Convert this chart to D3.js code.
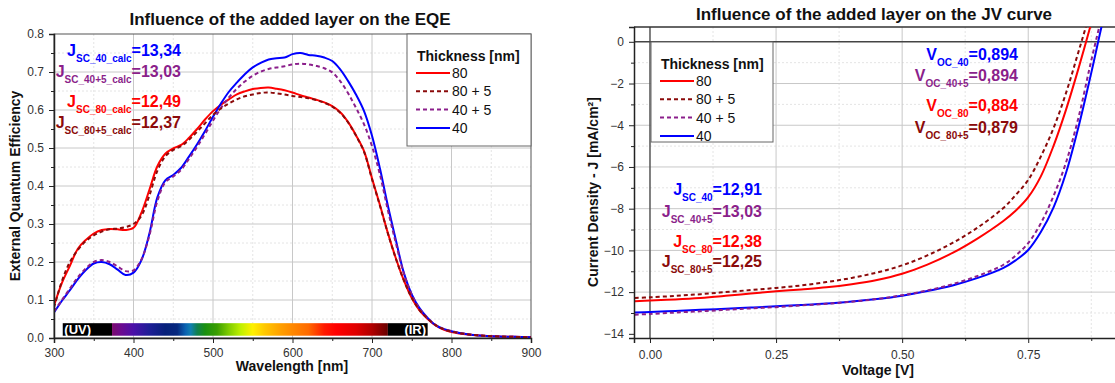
<!DOCTYPE html>
<meta charset="utf-8">
<style>
body { margin: 0; background: #fff; }
svg { font-family: "Liberation Sans", Arial, sans-serif; display: block; }
.tick text { fill: #333; font-size: 12px; }
.axis path, .axis line { stroke: #222; }
.minor line { stroke: #222; }
.title { font-size: 17px; font-weight: bold; text-anchor: middle; fill: #111; }
.alabel { font-size: 14px; font-weight: bold; text-anchor: middle; fill: #111; }
.leg { font-size: 14px; fill: #111; }
.note { font-size: 16px; font-weight: bold; }
.note .sub { font-size: 10px; }
</style>
<body>
<script src="https://cdn.jsdelivr.net/npm/d3@7"></script>
<script>

// ---------- data ----------
var series = ["80", "80 + 5", "40 + 5", "40"];
var colors = ["#ff0000", "#8b0a0a", "#8b1f8b", "#0000ff"];
var dashes = [null, "4,3", "4,3", null];

// EQE vs wavelength
var wavelength = [300,310,320,330,340,350,360,370,380,390,400,410,420,430,440,450,460,470,480,490,
  500,510,520,530,540,550,560,570,580,590,600,610,620,630,640,650,660,670,680,690,
  700,710,720,730,740,750,760,770,780,790,800,820,840,860,880,900];
var eqe80 = [0.085,0.145,0.19,0.235,0.258,0.275,0.284,0.287,0.286,0.284,0.29,0.33,0.39,0.452,0.485,0.499,0.508,0.527,0.55,0.575,
  0.597,0.614,0.628,0.641,0.649,0.655,0.658,0.659,0.656,0.652,0.646,0.639,0.633,0.627,0.62,0.61,0.594,0.568,0.533,0.492,
  0.42,0.35,0.276,0.21,0.152,0.105,0.072,0.05,0.033,0.022,0.016,0.009,0.006,0.004,0.003,0.002];
var eqe80p5 = [0.08,0.15,0.2,0.232,0.255,0.27,0.28,0.286,0.288,0.292,0.3,0.322,0.375,0.44,0.478,0.495,0.505,0.522,0.543,0.565,
  0.587,0.604,0.617,0.628,0.636,0.641,0.645,0.646,0.644,0.641,0.637,0.634,0.631,0.626,0.619,0.609,0.593,0.567,0.532,0.49,
  0.418,0.348,0.275,0.209,0.152,0.106,0.073,0.051,0.034,0.023,0.017,0.01,0.006,0.004,0.003,0.002];
var eqe40p5 = [0.07,0.1,0.13,0.16,0.183,0.2,0.205,0.2,0.188,0.176,0.178,0.207,0.27,0.36,0.41,0.425,0.443,0.472,0.503,0.537,
  0.572,0.605,0.633,0.656,0.675,0.69,0.701,0.708,0.712,0.715,0.72,0.722,0.72,0.716,0.71,0.699,0.676,0.644,0.605,0.562,
  0.505,0.43,0.336,0.25,0.17,0.114,0.076,0.052,0.034,0.024,0.018,0.01,0.006,0.004,0.003,0.002];
var eqe40 = [0.067,0.098,0.126,0.155,0.179,0.196,0.2,0.194,0.18,0.166,0.172,0.205,0.275,0.37,0.415,0.429,0.448,0.478,0.51,0.545,
  0.582,0.617,0.648,0.672,0.694,0.712,0.724,0.733,0.736,0.738,0.747,0.75,0.745,0.743,0.738,0.729,0.707,0.676,0.64,0.597,
  0.532,0.446,0.348,0.258,0.172,0.115,0.078,0.053,0.034,0.024,0.018,0.01,0.006,0.004,0.003,0.002];

// JV curves
var voltage = [-0.03,0,0.05,0.1,0.15,0.2,0.25,0.3,0.35,0.4,0.45,0.5,0.55,0.6,0.65,0.7,0.725,0.75,0.775,0.8,0.825,0.85,0.875,0.9,0.92];
var jv80 = [-12.44,-12.4,-12.35,-12.28,-12.18,-12.07,-11.96,-11.87,-11.77,-11.62,-11.42,-11.12,-10.68,-10.12,-9.42,-8.6,-8.1,-7.45,-6.45,-5.0,-3.25,-1.25,0.9,3.2,5.0];
var jv80p5 = [-12.28,-12.25,-12.18,-12.1,-12.0,-11.9,-11.8,-11.68,-11.52,-11.32,-11.06,-10.72,-10.24,-9.64,-8.9,-7.98,-7.35,-6.62,-5.5,-4.15,-2.45,-0.45,1.6,3.8,5.5];
var jv40p5 = [-13.08,-13.05,-12.98,-12.92,-12.85,-12.78,-12.72,-12.64,-12.56,-12.46,-12.33,-12.15,-11.92,-11.62,-11.22,-10.7,-10.25,-9.65,-8.7,-7.4,-5.78,-3.6,-0.9,1.6,3.4];
var jv40 = [-12.98,-12.95,-12.9,-12.85,-12.8,-12.74,-12.68,-12.62,-12.55,-12.45,-12.33,-12.17,-11.95,-11.68,-11.32,-10.85,-10.48,-9.98,-9.12,-7.95,-6.28,-4.05,-1.49,1.2,3.0];

// spectrum bar under the EQE curves
var spectrumNm = [373,385,400,420,440,455,465,472,480,490,505,520,535,550,565,585,600,620,640,655,680,700,720];
var spectrumColors = ["#7b0a6e","#6a0a90","#4a10a8","#1e1e96","#06207a","#06287e","#0a60b0","#1080b0","#108050","#1a9010",
  "#3a9e00","#80cc00","#c0f000","#fff000","#ffc800","#ffa000","#ff8800","#ff6a00","#ff1a00","#ff0000","#e00000","#b00000","#680000"];

var jscNotes = [["J","SC_40_calc","=13,34"],["J","SC_40+5_calc","=13,03"],["J","SC_80_calc","=12,49"],["J","SC_80+5_calc","=12,37"]];
var jscJV = [["J","SC_40","=12,91"],["J","SC_40+5","=13,03"],["J","SC_80","=12,38"],["J","SC_80+5","=12,25"]];
var vocJV = [["V","OC_40","=0,894"],["V","OC_40+5","=0,894"],["V","OC_80","=0,884"],["V","OC_80+5","=0,879"]];
var noteColors = ["#0000ff","#8b1f8b","#ff0000","#8b0a0a"];

var svg = d3.select("body").append("svg")
    .attr("width", 1115)
    .attr("height", 383);

var defs = svg.append("defs");

// helpers
function grid(g, scale, values, horizontal, a, b, color, dash) {
  g.selectAll(null).data(values).enter().append("line")
    .attr("x1", function(d) { return horizontal ? a : scale(d); })
    .attr("x2", function(d) { return horizontal ? b : scale(d); })
    .attr("y1", function(d) { return horizontal ? scale(d) : a; })
    .attr("y2", function(d) { return horizontal ? scale(d) : b; })
    .attr("stroke", color)
    .attr("stroke-width", 1)
    .attr("stroke-dasharray", dash);
}

function legend(g, x0, y0, w, h) {
  g.append("rect").attr("x", x0).attr("y", y0).attr("width", w).attr("height", h)
    .attr("fill", "#fff").attr("stroke", "#666");
  g.append("text").attr("x", x0 + 10).attr("y", y0 + 27)
    .attr("font-size", "14px").attr("font-weight", "bold").attr("fill", "#111")
    .text("Thickness [nm]");
  series.forEach(function(s, i) {
    var yy = y0 + 44 + i * 18.3;
    g.append("line").attr("x1", x0 + 9).attr("x2", x0 + 43).attr("y1", yy - 5).attr("y2", yy - 5)
      .attr("stroke", colors[i]).attr("stroke-width", 2).attr("stroke-dasharray", dashes[i]);
    g.append("text").attr("class", "leg").attr("x", x0 + 45).attr("y", yy).text(s);
  });
}

function notes(g, list, xr, ys) {
  list.forEach(function(n, i) {
    var t = g.append("text").attr("class", "note").attr("x", xr).attr("y", ys[i])
      .attr("text-anchor", "end").attr("fill", noteColors[i]);
    t.append("tspan").text(n[0]);
    t.append("tspan").attr("class", "sub").attr("dy", 6).text(n[1]);
    t.append("tspan").attr("dy", -6).text(n[2]);
  });
}

// ================= left: EQE =================
var x1 = d3.scaleLinear().domain([300, 900]).range([54, 531]);
var y1 = d3.scaleLinear().domain([0, 0.8]).range([338, 34]);
var L = svg.append("g");

grid(L, x1, d3.range(350, 900, 100), false, 34, 338, "#e4e4e4", "2,2");
grid(L, y1, d3.range(0.05, 0.8, 0.1), true, 54, 531, "#e4e4e4", "2,2");
grid(L, x1, d3.range(400, 900, 100), false, 34, 338, "#c8c8c8", null);
grid(L, y1, d3.range(0.1, 0.8, 0.1), true, 54, 531, "#c8c8c8", null);

// spectrum bar
var grad = defs.append("linearGradient").attr("id", "spec")
  .attr("gradientUnits", "userSpaceOnUse")
  .attr("x1", x1(spectrumNm[0])).attr("x2", x1(spectrumNm[spectrumNm.length - 1]))
  .attr("y1", 0).attr("y2", 0);
spectrumNm.forEach(function(nm, i) {
  grad.append("stop")
    .attr("offset", (nm - spectrumNm[0]) / (spectrumNm[spectrumNm.length - 1] - spectrumNm[0]))
    .attr("stop-color", spectrumColors[i]);
});
var barTop = y1(0.039), barH = y1(0.006) - y1(0.039);
L.append("rect").attr("x", x1(311)).attr("y", barTop).attr("width", x1(373) - x1(311)).attr("height", barH).attr("fill", "#000");
L.append("rect").attr("x", x1(373)).attr("y", barTop).attr("width", x1(720) - x1(373)).attr("height", barH).attr("fill", "url(#spec)");
L.append("rect").attr("x", x1(720)).attr("y", barTop).attr("width", x1(770) - x1(720)).attr("height", barH).attr("fill", "#000");
L.append("text").attr("x", x1(313)).attr("y", barTop + barH - 2).attr("fill", "#fff")
  .attr("font-size", "13px").attr("font-weight", "bold").text("(UV)");
L.append("text").attr("x", x1(768)).attr("y", barTop + barH - 2).attr("fill", "#fff").attr("text-anchor", "end")
  .attr("font-size", "13px").attr("font-weight", "bold").text("(IR)");

// frame
L.append("rect").attr("x", 54).attr("y", 34).attr("width", 477).attr("height", 304)
  .attr("fill", "none").attr("stroke", "#555");

defs.append("clipPath").attr("id", "clipL").append("rect").attr("x", 54).attr("y", 34).attr("width", 477).attr("height", 304);
var eqeSets = [eqe80, eqe80p5, eqe40p5, eqe40];
var lineL = d3.line().curve(d3.curveCatmullRom)
  .x(function(d, i) { return x1(wavelength[i]); })
  .y(function(d) { return y1(d); });
var curvesL = L.append("g").attr("clip-path", "url(#clipL)");
[0, 3, 2, 1].forEach(function(k) {
  curvesL.append("path").attr("d", lineL(eqeSets[k]))
    .attr("fill", "none").attr("stroke", colors[k]).attr("stroke-width", 2)
    .attr("stroke-dasharray", dashes[k]);
});

// axes
L.append("g").attr("class", "axis").attr("transform", "translate(0,338)")
  .call(d3.axisBottom(x1).tickValues(d3.range(300, 901, 100)).tickSize(5).tickPadding(5).tickFormat(d3.format("d")))
  .call(function(g) { g.select(".domain").attr("stroke-width", 1.5); });
L.append("g").attr("class", "axis minor").attr("transform", "translate(0,338)")
  .call(d3.axisBottom(x1).tickValues(d3.range(350, 900, 100)).tickSize(3).tickFormat(""))
  .call(function(g) { g.select(".domain").remove(); });
L.append("g").attr("class", "axis").attr("transform", "translate(54,0)")
  .call(d3.axisLeft(y1).tickValues(d3.range(0, 0.81, 0.1)).tickSize(5).tickPadding(5).tickFormat(d3.format(".1f")))
  .call(function(g) { g.select(".domain").attr("stroke-width", 1.5); });
L.append("g").attr("class", "axis minor").attr("transform", "translate(54,0)")
  .call(d3.axisLeft(y1).tickValues(d3.range(0.05, 0.8, 0.1)).tickSize(3).tickFormat(""))
  .call(function(g) { g.select(".domain").remove(); });

L.append("text").attr("class", "title").attr("x", 290).attr("y", 25).text("Influence of the added layer on the EQE");
L.append("text").attr("class", "alabel").attr("x", 292).attr("y", 371).text("Wavelength [nm]");
L.append("text").attr("class", "alabel").attr("transform", "translate(20,186) rotate(-90)").text("External Quantum Efficiency");

legend(L, 407, 34, 124, 112);
notes(L, jscNotes, 181, [56, 77, 107, 128]);

// ================= right: JV =================
var x2 = d3.scaleLinear().domain([-0.0317, 0.93]).range([634, 1119]);
var y2 = d3.scaleLinear().domain([-14.2, 0.71]).range([338, 27]);
var R = svg.append("g");

grid(R, x2, [0.125, 0.375, 0.625, 0.875], false, 27, 338, "#e4e4e4", "2,2");
grid(R, y2, d3.range(-13, 1, 2), true, 634, 1119, "#e4e4e4", "2,2");
grid(R, x2, [0.25, 0.5, 0.75], false, 27, 338, "#c8c8c8", null);
grid(R, y2, d3.range(-12, 0, 2), true, 634, 1119, "#c8c8c8", null);

// zero lines and frame
R.append("line").attr("x1", x2(0)).attr("x2", x2(0)).attr("y1", 27).attr("y2", 338).attr("stroke", "#555").attr("stroke-width", 1.5);
R.append("line").attr("x1", 634).attr("x2", 1119).attr("y1", y2(0)).attr("y2", y2(0)).attr("stroke", "#444").attr("stroke-width", 1.5);
R.append("line").attr("x1", 634).attr("x2", 1119).attr("y1", 27).attr("y2", 27).attr("stroke", "#333").attr("stroke-width", 1.5);

defs.append("clipPath").attr("id", "clipR").append("rect").attr("x", 634).attr("y", 27).attr("width", 485).attr("height", 311);
var jvSets = [jv80, jv80p5, jv40p5, jv40];
var lineR = d3.line().curve(d3.curveCatmullRom)
  .x(function(d, i) { return x2(voltage[i]); })
  .y(function(d) { return y2(d); });
var curvesR = R.append("g").attr("clip-path", "url(#clipR)");
[0, 3, 1, 2].forEach(function(k) {
  curvesR.append("path").attr("d", lineR(jvSets[k]))
    .attr("fill", "none").attr("stroke", colors[k]).attr("stroke-width", 2)
    .attr("stroke-dasharray", dashes[k]);
});

R.append("g").attr("class", "axis").attr("transform", "translate(0,338)")
  .call(d3.axisBottom(x2).tickValues([0, 0.25, 0.5, 0.75]).tickSize(5).tickPadding(7).tickFormat(d3.format(".2f")))
  .call(function(g) { g.select(".domain").attr("stroke-width", 1.5); });
R.append("g").attr("class", "axis minor").attr("transform", "translate(0,338)")
  .call(d3.axisBottom(x2).tickValues([0.125, 0.375, 0.625, 0.875]).tickSize(3).tickFormat(""))
  .call(function(g) { g.select(".domain").remove(); });
R.append("g").attr("class", "axis").attr("transform", "translate(634,0)")
  .call(d3.axisLeft(y2).tickValues(d3.range(-14, 1, 2)).tickSize(5).tickPadding(5).tickFormat(d3.format("d")))
  .call(function(g) { g.select(".domain").attr("stroke-width", 1.5); });
R.append("g").attr("class", "axis minor").attr("transform", "translate(634,0)")
  .call(d3.axisLeft(y2).tickValues(d3.range(-13, 0, 2)).tickSize(3).tickFormat(""))
  .call(function(g) { g.select(".domain").remove(); });

R.append("text").attr("class", "title").attr("x", 874).attr("y", 20).text("Influence of the added layer on the JV curve");
R.append("text").attr("class", "alabel").attr("x", 878).attr("y", 375).text("Voltage [V]");
R.append("text").attr("class", "alabel").attr("transform", "translate(598,192) rotate(-90)").text("Current Density - J [mA/cm²]");

legend(R, 651, 42, 122, 100);
notes(R, vocJV, 1018, [60, 81, 111, 133]);
notes(R, jscJV, 762, [195, 217, 247, 267]);

</script>
</body>
